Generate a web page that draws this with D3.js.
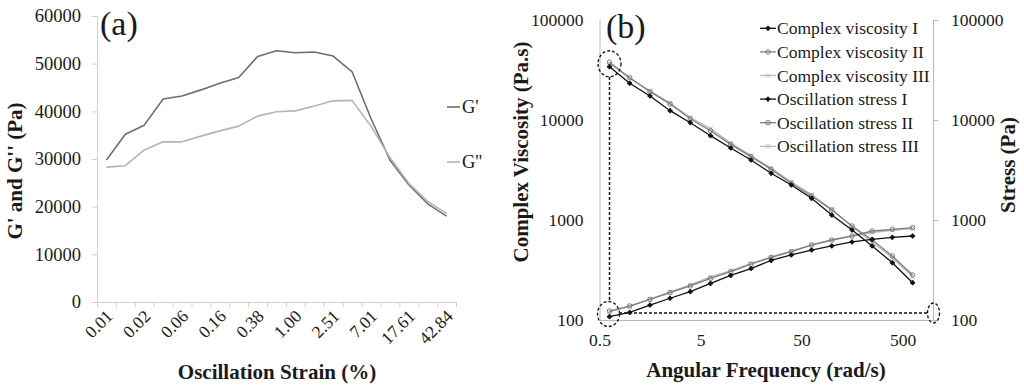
<!DOCTYPE html>
<html><head><meta charset="utf-8">
<script src="https://cdn.jsdelivr.net/npm/d3@7"></script>
<style>
body{margin:0;background:#fff}
svg{display:block}
text{font-family:"Liberation Serif","Times New Roman",serif;fill:#1a1a1a}
</style>
</head><body>
<svg id="c" width="1024" height="386"></svg>
<script>
// ---------- Panel (a) data ----------
const strainLabels = ["0.01","0.01","0.02","0.04","0.06","0.10","0.16","0.25","0.38","0.63","1.00","1.58","2.51","4.20","7.01","11.10","17.61","27.50","42.84"];
const gPrime       = [29800,35200,37100,42600,43200,44500,45900,47100,51500,52700,52300,52450,51600,48300,38500,29800,24600,20600,18000];
const gDoublePrime = [28300,28600,31900,33600,33600,34800,35900,36900,39000,39900,40100,41100,42200,42300,36900,30300,24900,21100,18600];
const yTicksA = [0,10000,20000,30000,40000,50000,60000];
const seriesA = ["G'","G''"];

// ---------- Panel (b) data ----------
const freq = [0.628,0.995,1.58,2.50,3.96,6.28,9.95,15.8,25.0,39.6,62.8,99.5,158,250,396,628];
const viscI   = [34100,23300,17400,12400,9400,6970,5250,3980,2930,2240,1650,1120,794,550,374,236];
const viscII  = [37800,26500,19200,14450,10300,7820,5710,4300,3210,2330,1740,1260,871,631,437,282];
const viscIII = [36800,26200,19600,14800,10600,8200,5900,4400,3300,2400,1800,1280,860,600,420,270];
const stressI   = [108,119,141,165,192,232,279,327,394,447,501,550,603,641,671,692];
const stressII  = [123,138,161,188,219,261,304,361,422,482,562,631,692,776,807,838];
const stressIII = [121,137,162,191,224,270,312,368,428,490,565,630,690,750,790,820];
const yTicksB = [100,1000,10000,100000];
const xTicksB = [0.5,5,50,500];
const legendB = ["Complex viscosity I","Complex viscosity II","Complex viscosity III","Oscillation stress I","Oscillation stress II","Oscillation stress III"];

const svg = d3.select("#c");
const axisGray = "#d0d0d0";

// ================= Panel (a) =================
const xa = d3.scaleLinear().domain([0, strainLabels.length]).range([97, 456]);
const ya = d3.scaleLinear().domain([0, 60000]).range([302, 16]);
const colA = ["#6e6e6e", "#b4b4b4"];

const gAy = svg.append("g").attr("transform","translate(97,0)")
  .call(d3.axisLeft(ya).tickValues(yTicksA).tickSize(5).tickPadding(11).tickFormat(d3.format("d")));
gAy.selectAll("path,line").attr("stroke", axisGray);
gAy.selectAll("text").style("font-size","18.5px").style("font-family","Liberation Serif").attr("fill","#1a1a1a");

const gAx = svg.append("g").attr("transform","translate(0,302)")
  .call(d3.axisBottom(xa).tickValues(d3.range(strainLabels.length+1)).tickSize(5).tickFormat(""));
gAx.selectAll("path,line").attr("stroke", axisGray);

strainLabels.forEach((lab,i)=>{
  if(i%2) return;
  const cx = xa(i+0.5)+3;
  svg.append("text").attr("transform",`translate(${cx},313) rotate(-45)`)
    .attr("text-anchor","end").attr("dy","0.35em").style("font-size","17.5px").text(lab);
});

const lineA = d3.line().x((d,i)=>xa(i+0.5)).y(d=>ya(d));
[gPrime, gDoublePrime].forEach((s,k)=>{
  svg.append("path").datum(s).attr("d", lineA).attr("fill","none")
    .attr("stroke", colA[k]).attr("stroke-width",1.6).attr("stroke-linejoin","round");
});
// legend (a)
seriesA.forEach((n,k)=>{
  const yy = [107,162][k];
  svg.append("line").attr("x1",447).attr("x2",460).attr("y1",yy).attr("y2",yy).attr("stroke",colA[k]).attr("stroke-width",1.6);
  svg.append("text").attr("x",462).attr("y",yy).attr("dy","0.35em").style("font-size","18.5px").text(n);
});
svg.append("text").attr("x",100).attr("y",35).style("font-size","34px").text("(a)");
svg.append("text").attr("transform","translate(22,171) rotate(-90)").attr("text-anchor","middle")
  .style("font-size","21px").style("font-weight","bold").text("G' and G'' (Pa)");
svg.append("text").attr("x",277).attr("y",379).attr("text-anchor","middle")
  .style("font-size","21px").style("font-weight","bold").text("Oscillation Strain (%)");

// ================= Panel (b) =================
const xb = d3.scaleLog().domain([0.5, 1000]).range([599.5, 933]);
const yb = d3.scaleLog().domain([100, 100000]).range([320, 20]);
const bGray = "#b8b8b8";

const gBl = svg.append("g").attr("transform","translate(599.5,0)")
  .call(d3.axisLeft(yb).tickValues(yTicksB).tickSize(0).tickPadding(16).tickFormat(d3.format("d")));
gBl.selectAll("path").attr("stroke", bGray);
gBl.selectAll("text").style("font-size","17.5px").style("font-family","Liberation Serif").attr("fill","#1a1a1a");

const gBr = svg.append("g").attr("transform","translate(933,0)")
  .call(d3.axisRight(yb).tickValues(yTicksB).tickSize(5).tickPadding(13).tickFormat(d3.format("d")));
gBr.selectAll("path,line").attr("stroke", bGray);
gBr.selectAll("text").style("font-size","17.5px").style("font-family","Liberation Serif").attr("fill","#1a1a1a");

const gBx = svg.append("g").attr("transform","translate(0,320)")
  .call(d3.axisBottom(xb).tickValues(xTicksB).tickSize(0).tickPadding(14).tickFormat(d=>String(d)));
gBx.selectAll("path").attr("stroke", bGray);
gBx.selectAll("text").style("font-size","17.5px").style("font-family","Liberation Serif").attr("fill","#1a1a1a");

const styles = [
  {c:"#111111", sym:d3.symbolCross, size:9, fill:"#111111"},
  {c:"#7c7c7c", sym:d3.symbolCircle, size:16, fill:"none"},
  {c:"#b8b8b8", sym:d3.symbolTimes, size:14, fill:"none"}
];
const seriesB = [viscI, viscII, viscIII, stressI, stressII, stressIII];
const lineB = d3.line().x((d,i)=>xb(freq[i])).y(d=>yb(d));
[2,5,1,4,0,3].forEach(k=>{
  const st = styles[k%3];
  const s = seriesB[k];
  svg.append("path").datum(s).attr("d", lineB).attr("fill","none")
    .attr("stroke", st.c).attr("stroke-width",1.3);
  svg.append("g").selectAll("path").data(s).join("path")
    .attr("transform",(d,i)=>`translate(${xb(freq[i])},${yb(d)})`)
    .attr("d", d3.symbol(st.sym, st.size)())
    .attr("fill", st.fill)
    .attr("stroke", st.c).attr("stroke-width",1);
});

// annotations (dashed)
const dash = "3,2";
svg.append("ellipse").attr("cx",xb(freq[0])).attr("cy",yb(viscII[0])+1.5).attr("rx",11.5).attr("ry",13)
  .attr("fill","none").attr("stroke","#111").attr("stroke-width",1.3).attr("stroke-dasharray",dash);
svg.append("ellipse").attr("cx",xb(freq[0])-1).attr("cy",314).attr("rx",11).attr("ry",12.5)
  .attr("fill","none").attr("stroke","#111").attr("stroke-width",1.3).attr("stroke-dasharray",dash);
svg.append("ellipse").attr("cx",933.5).attr("cy",313).attr("rx",6).attr("ry",10)
  .attr("fill","none").attr("stroke","#111").attr("stroke-width",1.3).attr("stroke-dasharray",dash);
svg.append("line").attr("x1",xb(freq[0])).attr("x2",xb(freq[0])).attr("y1",77).attr("y2",302)
  .attr("stroke","#111").attr("stroke-width",1.5).attr("stroke-dasharray",dash);
svg.append("line").attr("x1",619).attr("x2",927).attr("y1",313).attr("y2",313)
  .attr("stroke","#111").attr("stroke-width",1.3).attr("stroke-dasharray",dash);

// legend (b)
legendB.forEach((n,k)=>{
  const st = styles[k%3];
  const yy = 28.3 + k*23.6;
  svg.append("line").attr("x1",760).attr("x2",776).attr("y1",yy).attr("y2",yy).attr("stroke",st.c).attr("stroke-width",1.3);
  svg.append("path").attr("transform",`translate(768,${yy})`).attr("d", d3.symbol(st.sym, st.size)())
    .attr("fill", st.fill).attr("stroke", st.c).attr("stroke-width",1);
  svg.append("text").attr("x",777).attr("y",yy).attr("dy","0.35em").style("font-size","17.5px").text(n);
});

svg.append("text").attr("x",606).attr("y",38).style("font-size","34px").text("(b)");
svg.append("text").attr("transform","translate(528,152) rotate(-90)").attr("text-anchor","middle")
  .style("font-size","21px").style("font-weight","bold").text("Complex Viscosity (Pa.s)");
svg.append("text").attr("transform","translate(1015,165) rotate(-90)").attr("text-anchor","middle")
  .style("font-size","21px").style("font-weight","bold").text("Stress (Pa)");
svg.append("text").attr("x",766).attr("y",377).attr("text-anchor","middle")
  .style("font-size","21px").style("font-weight","bold").text("Angular Frequency (rad/s)");
</script>
</body></html>
